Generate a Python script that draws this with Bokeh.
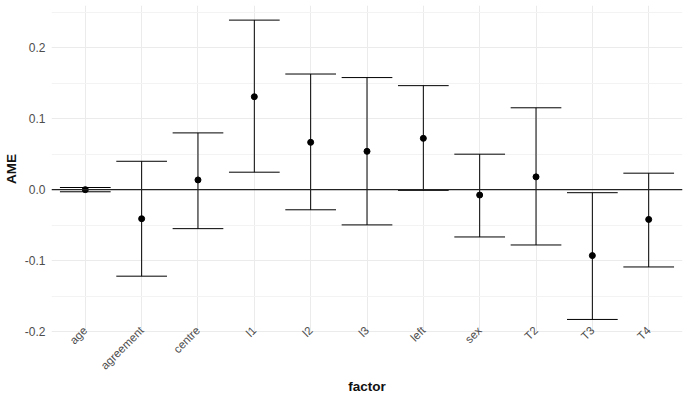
from bokeh.plotting import figure
from bokeh.models import FixedTicker, Range1d, Span, ColumnDataSource
from bokeh.embed import file_html
from bokeh.resources import INLINE
import math

factors = ["age", "agreement", "centre", "l1", "l2", "l3", "left", "sex", "T2", "T3", "T4"]
ame = [0.0, -0.041, 0.0137, 0.131, 0.0667, 0.054, 0.0723, -0.0076, 0.018, -0.093, -0.042]
lower = [-0.003, -0.122, -0.055, 0.0246, -0.0284, -0.0497, -0.001, -0.0667, -0.078, -0.183, -0.109]
upper = [0.003, 0.040, 0.080, 0.239, 0.163, 0.158, 0.1466, 0.050, 0.1154, -0.0043, 0.0232]
y_ticks = [-0.2, -0.1, 0.0, 0.1, 0.2]
y_tick_labels = ["-0.2", "-0.1", "0.0", "0.1", "0.2"]
y_minor = [-0.15, -0.05, 0.05, 0.15, 0.25]

y_lo, y_hi = -0.2014, 0.2596
xs = list(range(1, len(factors) + 1))
cap = 0.45
src = ColumnDataSource(dict(
    x=xs, ame=ame, lower=lower, upper=upper,
    xl=[x - cap for x in xs], xr=[x + cap for x in xs],
))

p = figure(width=684, height=396, output_backend="svg", toolbar_location=None,
           x_range=Range1d(0.4, len(factors) + 0.6), y_range=Range1d(y_lo, y_hi),
           min_border_left=0, min_border_right=2, min_border_top=5, min_border_bottom=0)
p.outline_line_color = None
p.background_fill_color = "white"
p.border_fill_color = "white"

font = "Liberation Sans"
p.xaxis.ticker = FixedTicker(ticks=xs)
p.xaxis.major_label_overrides = {x: f for x, f in zip(xs, factors)}
p.xaxis.major_label_orientation = math.pi / 4
p.yaxis.ticker = FixedTicker(ticks=y_ticks, minor_ticks=y_minor)
p.yaxis.major_label_overrides = {t: l for t, l in zip(y_ticks, y_tick_labels)}

for ax in (p.xaxis, p.yaxis):
    ax.axis_line_color = None
    ax.major_tick_line_color = None
    ax.minor_tick_line_color = None
    ax.major_tick_out = 0
    ax.major_tick_in = 0
    ax.minor_tick_out = 0
    ax.minor_tick_in = 0
    ax.major_label_text_font = font
    ax.major_label_text_font_size = "12px"
    ax.major_label_text_color = "#4D4D4D"
    ax.axis_label_text_font = font
    ax.axis_label_text_font_size = "13.5px"
    ax.axis_label_text_font_style = "bold"
    ax.axis_label_text_color = "#111111"

p.xaxis.major_label_text_font_size = "11.5px"
p.xaxis.axis_label = "factor"
p.xaxis.major_label_standoff = -4
p.xaxis.axis_label_standoff = 0
p.yaxis.axis_label = "AME"
p.yaxis.major_label_standoff = 6
p.yaxis.axis_label_standoff = 3

p.xgrid.grid_line_color = "#EBEBEB"
p.ygrid.grid_line_color = "#EBEBEB"
p.ygrid.minor_grid_line_color = "#F3F3F3"

p.add_layout(Span(location=0, dimension="width", line_color="#222222", line_width=1.2))

p.segment(x0="x", y0="lower", x1="x", y1="upper", source=src, line_color="black", line_width=1)
p.segment(x0="xl", y0="upper", x1="xr", y1="upper", source=src, line_color="black", line_width=1)
p.segment(x0="xl", y0="lower", x1="xr", y1="lower", source=src, line_color="black", line_width=1)
p.scatter(x="x", y="ame", source=src, size=6, fill_color="black", line_color="black")

open("out.html", "w").write(file_html(p, INLINE))
